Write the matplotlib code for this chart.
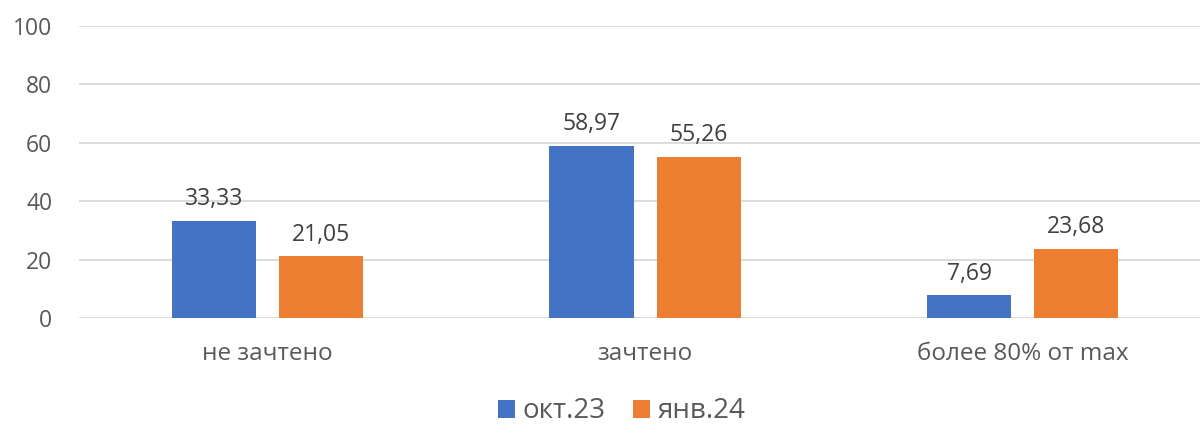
import matplotlib.pyplot as plt
import numpy as np

plt.rcParams['font.family'] = ['Open Sans', 'DejaVu Sans']

categories = ['не зачтено', 'зачтено', 'более 80% от max']
oct23 = [33.33, 58.97, 7.69]
jan24 = [21.05, 55.26, 23.68]
series_names = ['окт.23', 'янв.24']
yticks = [0, 20, 40, 60, 80, 100]

blue = '#4472C4'
orange = '#ED7D31'

fig = plt.figure(figsize=(12, 4.25), dpi=100)
ax = fig.add_axes([0.0656, 0.252, 0.944, 0.687])

x = np.arange(len(categories))
w = 0.2225
off = 0.142
b1 = ax.bar(x - off, oct23, w, color=blue, label=series_names[0])
b2 = ax.bar(x + off, jan24, w, color=orange, label=series_names[1])

for bars, vals in [(b1, oct23), (b2, jan24)]:
    for rect, v in zip(bars, vals):
        ax.annotate(f'{v:.2f}'.replace('.', ','),
                    (rect.get_x() + rect.get_width() / 2, rect.get_height()),
                    xytext=(0, 7), textcoords='offset points',
                    ha='center', va='bottom', fontsize=16.5, color='#404040')

ax.set_xlim(-0.5, 2.5)
ax.set_ylim(0, 100)
ax.set_yticks(yticks)
ax.set_xticks(x)
ax.set_xticklabels(categories)
ax.tick_params(axis='both', length=0, labelcolor='#595959')
ax.tick_params(axis='x', pad=17, labelsize=17.5)
ax.tick_params(axis='y', pad=19, labelsize=16.5)
ax.grid(axis='y', color='#D9D9D9', linewidth=1.3)
ax.set_axisbelow(True)
for s in ax.spines.values():
    s.set_visible(False)

fig.legend(handles=[b1, b2], loc='center', bbox_to_anchor=(0.518, 0.032),
           ncol=2, frameon=False, fontsize=20, labelcolor='#595959',
           handlelength=0.61, handleheight=0.61, handletextpad=0.29,
           columnspacing=0.97, borderpad=0)

fig.savefig('out.png', dpi=100)
